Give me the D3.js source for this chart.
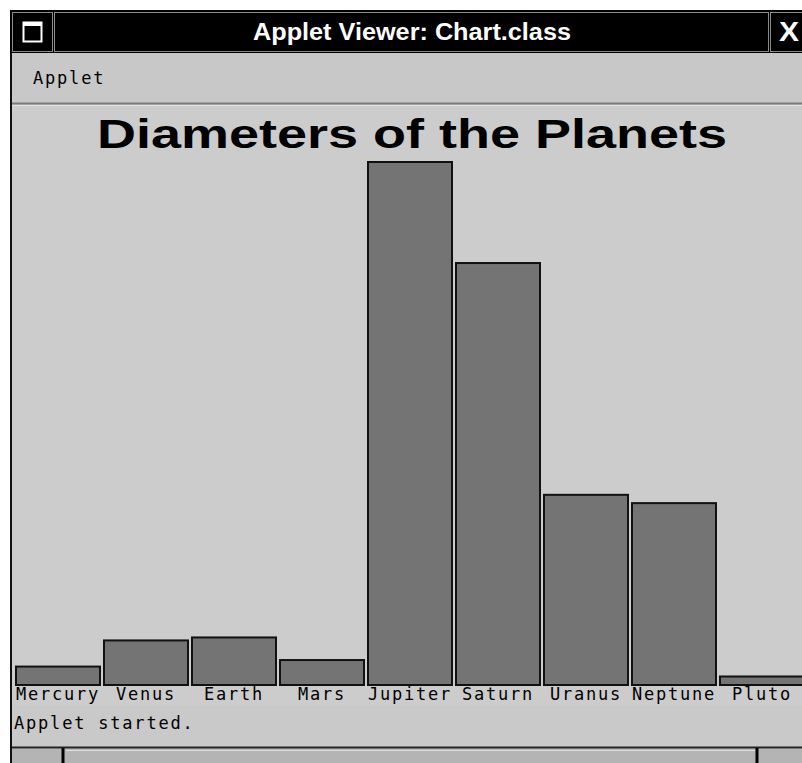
<!DOCTYPE html>
<html>
<head>
<meta charset="utf-8">
<script src="https://cdn.jsdelivr.net/npm/d3@7"></script>
<style>
  html, body { margin: 0; padding: 0; background: #fff; }
  svg { display: block; }
  .mono { font-family: "DejaVu Sans Mono", "Liberation Mono", monospace; font-size: 17px; letter-spacing: 1.8px; fill: #000; }
</style>
</head>
<body>
<svg id="chart" width="802" height="763"></svg>
<script>
// planet diameters (miles), as in the applet params
var planets = ["Mercury", "Venus", "Earth", "Mars", "Jupiter", "Saturn", "Uranus", "Neptune", "Pluto"];
var diameters = [3100, 7500, 8000, 4200, 88000, 71000, 32000, 30600, 1430];
var chartTitle = "Diameters of the Planets";

var svg = d3.select("#chart"),
    width = +svg.attr("width"),
    height = +svg.attr("height");

// --- window frame ---
svg.append("rect").attr("x", 10).attr("y", 10).attr("width", width - 10).attr("height", height - 10)
    .attr("fill", "#cccccc");
svg.append("line").attr("x1", 11).attr("x2", 11).attr("y1", 10).attr("y2", height)
    .attr("stroke", "#111").attr("stroke-width", 2);

// title bar
svg.append("rect").attr("x", 10).attr("y", 10).attr("width", width - 10).attr("height", 43).attr("fill", "#000");
var boxes = [[12, 40], [54, 714], [770, 40]];
svg.append("g").selectAll("rect").data(boxes).enter().append("rect")
    .attr("x", function(d) { return d[0] + 0.5; })
    .attr("y", 12.5)
    .attr("width", function(d) { return d[1]; })
    .attr("height", 39)
    .attr("fill", "none")
    .attr("stroke", "#8a8a8a");
// window icon
svg.append("rect").attr("x", 23.5).attr("y", 22.5).attr("width", 18).attr("height", 19)
    .attr("fill", "none").attr("stroke", "#fff").attr("stroke-width", 2);
svg.append("rect").attr("x", 23).attr("y", 22).attr("width", 19).attr("height", 4).attr("fill", "#fff");
svg.append("text").attr("x", 412).attr("y", 40)
    .attr("text-anchor", "middle")
    .attr("textLength", 318).attr("lengthAdjust", "spacingAndGlyphs")
    .style("font-family", "'Liberation Sans Narrow', 'Liberation Sans', sans-serif")
    .style("font-size", "23px").style("font-weight", "bold").style("fill", "#fff")
    .text("Applet Viewer: Chart.class");
svg.append("text").attr("x", 779).attr("y", 41)
    .attr("textLength", 20).attr("lengthAdjust", "spacingAndGlyphs")
    .style("font-family", "'Liberation Sans Narrow', 'Liberation Sans', sans-serif")
    .style("font-size", "27px").style("font-weight", "bold").style("fill", "#fff")
    .text("X");

// menu bar
svg.append("rect").attr("x", 12).attr("y", 53).attr("width", width - 12).attr("height", 50).attr("fill", "#c8c8c8");
svg.append("line").attr("x1", 12).attr("x2", width).attr("y1", 103.5).attr("y2", 103.5).attr("stroke", "#7c7c7c").attr("stroke-width", 2);
svg.append("line").attr("x1", 12).attr("x2", width).attr("y1", 105.5).attr("y2", 105.5).attr("stroke", "#e2e2e2");
svg.append("text").attr("class", "mono").attr("x", 33).attr("y", 84).text("Applet");

// --- the chart itself ---
var x = d3.scaleBand().domain(planets).range([14, 14 + 88 * planets.length]).padding(0);
var y = d3.scaleLinear().domain([0, d3.max(diameters)]).range([685, 162]);

svg.append("text")
    .attr("x", 412).attr("y", 148)
    .attr("text-anchor", "middle")
    .attr("textLength", 630).attr("lengthAdjust", "spacingAndGlyphs")
    .style("font-family", "'Liberation Sans', Arial, sans-serif")
    .style("font-size", "41px").style("font-weight", "bold").style("fill", "#000")
    .text(chartTitle);

var data = planets.map(function(p, i) { return {name: p, value: diameters[i]}; });

svg.append("g")
    .attr("class", "bars")
    .selectAll("rect")
    .data(data)
    .enter().append("rect")
    .attr("x", function(d) { return x(d.name) + 2; })
    .attr("y", function(d) { return y(d.value); })
    .attr("width", x.bandwidth() - 4)
    .attr("height", function(d) { return y(0) - y(d.value); })
    .attr("fill", "#747474")
    .attr("stroke", "#111")
    .attr("stroke-width", 2);

svg.append("g")
    .attr("class", "labels")
    .selectAll("text")
    .data(data)
    .enter().append("text")
    .attr("class", "mono")
    .attr("x", function(d) { return x(d.name) + x.bandwidth() / 2; })
    .attr("y", 700)
    .attr("text-anchor", "middle")
    .text(function(d) { return d.name; });

// --- status area ---
svg.append("rect").attr("x", 12).attr("y", 705).attr("width", width - 12).attr("height", 42).attr("fill", "#c9c9c9");
svg.append("text").attr("class", "mono").attr("x", 14).attr("y", 729).text("Applet started.");
svg.append("line").attr("x1", 12).attr("x2", width).attr("y1", 747.5).attr("y2", 747.5).attr("stroke", "#222").attr("stroke-width", 2);
svg.append("rect").attr("x", 12).attr("y", 749).attr("width", width - 12).attr("height", 14).attr("fill", "#b4b4b4");
var dividers = [63, 757];
svg.append("g").selectAll("line").data(dividers).enter().append("line")
    .attr("x1", function(d) { return d; }).attr("x2", function(d) { return d; })
    .attr("y1", 748).attr("y2", height)
    .attr("stroke", "#000").attr("stroke-width", 3);
svg.append("line").attr("x1", 66).attr("x2", 755).attr("y1", 750.5).attr("y2", 750.5).attr("stroke", "#e0e0e0");
</script>
</body>
</html>
